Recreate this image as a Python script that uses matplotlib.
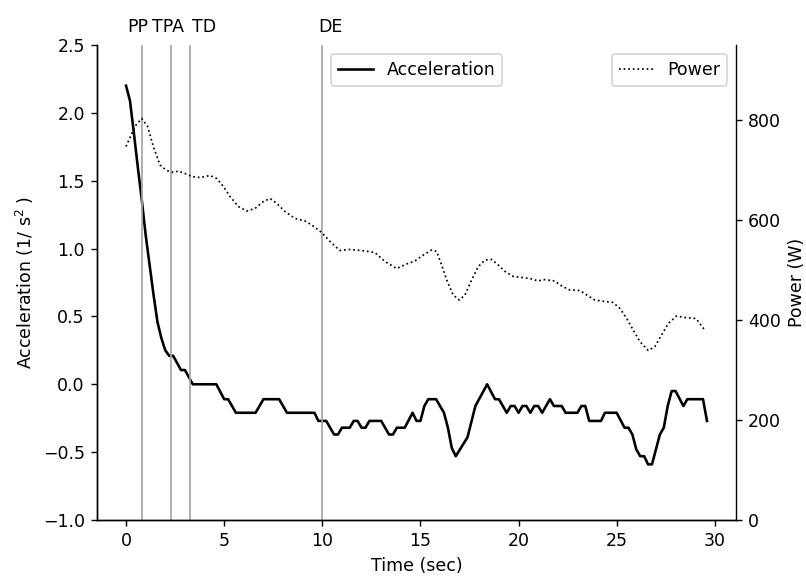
import numpy as np
import matplotlib
matplotlib.use("Agg")
import matplotlib.pyplot as plt

# acceleration (1/s^2), read at the corners of the trace
acc_t = [0.0, 0.2, 0.4, 0.6, 0.8, 1.0, 1.2, 1.4, 1.6, 1.8, 2.0, 2.2, 2.4, 2.8, 3.0, 3.4,
         4.6, 5.0, 5.2, 5.6, 6.6, 7.0, 7.8, 8.2, 9.6, 9.8, 10.2, 10.6, 10.8, 11.0, 11.4,
         11.6, 11.8, 12.0, 12.2, 12.4, 13.0, 13.4, 13.6, 13.8, 14.2, 14.6, 14.8, 15.0,
         15.2, 15.4, 15.8, 16.0, 16.2, 16.4, 16.6, 16.8, 17.4, 17.8, 18.4, 18.8, 19.0,
         19.4, 19.6, 19.8, 20.0, 20.2, 20.4, 20.6, 20.8, 21.0, 21.2, 21.6, 21.8, 22.2,
         22.4, 23.0, 23.2, 23.4, 23.6, 24.2, 24.4, 25.0, 25.4, 25.6, 25.8, 26.0, 26.2,
         26.4, 26.6, 26.8, 27.2, 27.4, 27.6, 27.8, 28.0, 28.4, 28.6, 29.4, 29.6]
acc = [2.20, 2.09, 1.85, 1.60, 1.36, 1.10, 0.88, 0.66, 0.46, 0.34, 0.25, 0.21, 0.21, 0.105, 0.105, 0.0,
       0.0, -0.11, -0.11, -0.21, -0.21, -0.11, -0.11, -0.21, -0.21, -0.27, -0.27, -0.37, -0.37, -0.32, -0.32,
       -0.27, -0.27, -0.32, -0.32, -0.27, -0.27, -0.37, -0.37, -0.32, -0.32, -0.21, -0.27, -0.27,
       -0.16, -0.11, -0.11, -0.16, -0.21, -0.32, -0.47, -0.53, -0.39, -0.16, 0.0, -0.11, -0.11,
       -0.21, -0.16, -0.16, -0.21, -0.16, -0.16, -0.21, -0.16, -0.16, -0.21, -0.11, -0.16, -0.16,
       -0.21, -0.21, -0.16, -0.16, -0.27, -0.27, -0.21, -0.21, -0.32, -0.32, -0.37, -0.48, -0.53,
       -0.53, -0.59, -0.59, -0.37, -0.32, -0.16, -0.05, -0.05, -0.16, -0.11, -0.11, -0.27]

# power (W)
pow_t = [0.0, 0.46, 0.8, 1.1, 1.39, 1.73, 2.07, 2.41, 2.67, 3.0, 3.35, 3.77, 4.28, 4.62, 4.96,
         5.3, 5.72, 6.15, 6.57, 7.0, 7.34, 7.68, 8.1, 8.61, 9.12, 9.46, 9.97, 10.39, 10.9,
         11.41, 12.0, 12.68, 13.19, 13.79, 14.3, 14.72, 15.15, 15.57, 15.83, 16.08, 16.34,
         16.67, 16.98, 17.27, 17.61, 17.95, 18.29, 18.63, 18.97, 19.31, 19.73, 20.16, 20.58,
         21.0, 21.26, 21.85, 22.2, 22.62, 23.13, 23.55, 23.89, 24.4, 24.82, 25.17, 25.51,
         25.84, 26.18, 26.61, 26.95, 27.29, 27.63, 28.05, 28.48, 29.04, 29.24, 29.5]
power = [747, 788, 803, 787, 747, 710, 699, 695, 698, 693, 687, 685, 689, 683, 667,
         647, 627, 618, 623, 637, 643, 633, 617, 603, 598, 590, 575, 557, 539,
         541, 539, 535, 517, 503, 512, 518, 530, 540, 537, 510, 480,
         450, 440, 450, 480, 507, 520, 521, 510, 497, 487, 485, 483,
         478, 481, 478, 468, 460, 459, 448, 440, 437, 435, 423, 403,
         380, 357, 339, 347, 370, 393, 408, 405, 403, 393, 379]

events = ["PP", "TPA", "TD", "DE"]
event_t = [0.83, 2.28, 3.28, 10.0]
label_x = [0.61, 2.15, 3.96, 10.44]

fig = plt.figure(figsize=(806/125, 576/125), dpi=125)
ax = fig.add_axes([97/806, 1-520/576, (736-97)/806, (520-45)/576])
ax.plot(acc_t, acc, color="black", label="Acceleration")
for t in event_t:
    ax.axvline(t, color="#a6a6a6", linewidth=1.0)
for lab, x in zip(events, label_x):
    ax.text(x, 1.028, lab, transform=ax.get_xaxis_transform(), ha="center", va="baseline")
ax.set_ylim(-1.0, 2.5)
ax.set_xlabel("Time (sec)")
ax.set_ylabel("Acceleration (1/ s$^2$ )")
ax.spines["top"].set_visible(False)
ax.spines["right"].set_visible(False)
ax.legend(loc="upper center")

ax2 = ax.twinx()
ax2.plot(pow_t, power, color="black", linestyle=":", linewidth=1.0, label="Power")
ax2.set_ylim(0, 950)
ax2.set_ylabel("Power (W)")
ax2.spines["top"].set_visible(False)
ax2.legend(loc="upper right")

ax.set_xlim(-1.48, 31.08)

fig.savefig("out.png", dpi=125)
